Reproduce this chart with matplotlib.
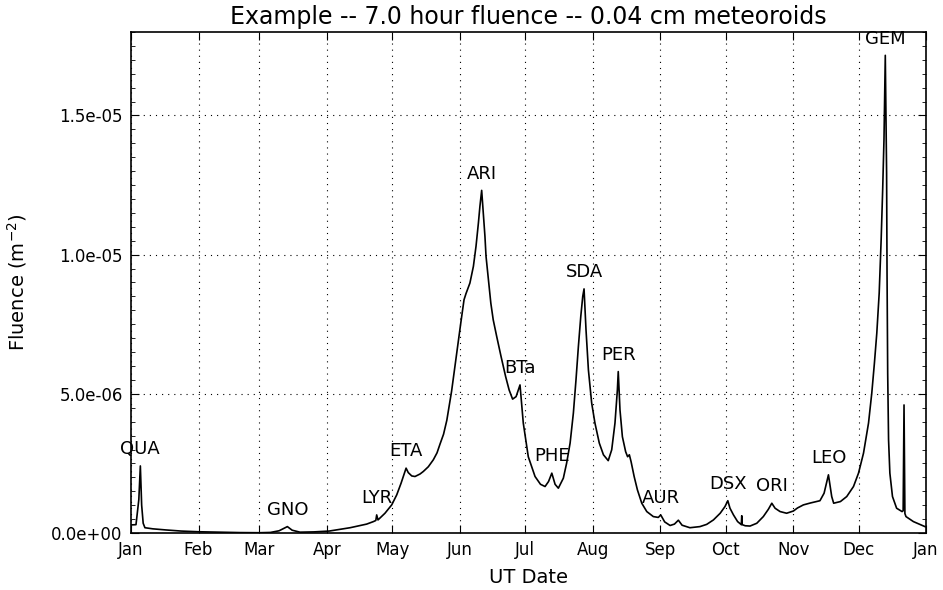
import numpy as np
import pandas as pd
import matplotlib
matplotlib.use("Agg")
import matplotlib.pyplot as plt
import matplotlib.dates as mdates
from matplotlib.ticker import AutoMinorLocator, FormatStrFormatter, MultipleLocator

# day of year (days after Jan 1) and fluence in units of 1e-6 m^-2
days = [0.0, 2.3, 3.6, 4.3, 4.9, 5.6, 6.4, 10, 16, 23, 31, 40, 50, 59,
        64, 68, 71.8, 74, 77.6, 84, 91, 100.6, 108.2, 111.3, 112.4, 112.8, 113.4,
        116.6, 119.7, 122, 124, 125.3, 126.3, 127.3, 128.9, 130.4, 132.7, 134.2,
        136.5, 138.8, 140.5, 141.9, 143.5, 145, 147.2, 149.5, 151.4, 152.9,
        153.8, 155.6, 157.2, 158.4, 159.5, 160.2, 161.0, 162.5, 163.0, 164.1,
        165.2, 166.3, 167.9, 169.9, 172.0, 173.6, 175.2, 176.8, 178.6, 180.1,
        182.4, 185.5, 188, 190.1, 191.7, 193.2, 194.7, 196.2, 198.5, 200,
        201.6, 203.1, 204.3, 205.4, 206.5, 207.4, 208, 208.9, 210, 211.5, 213,
        215, 216.9, 219.1, 220.7, 222.2, 223.3, 223.7, 224.5, 225.6, 227.1,
        228.0, 228.8, 229.6, 231, 232.5, 234.5, 236.8, 239.8, 242.1, 243.2,
        245, 247.5, 249.5, 251.3, 253, 256.6, 261.2, 264.3, 267.4, 270.5,
        272.7, 274, 275.0, 276.6, 278.5, 280.2, 280.4, 280.6, 282, 284.2,
        287.3, 290.3, 292.6, 294.2, 295.7, 298, 301, 304.1, 306, 308.7, 312,
        316.3, 318.2, 320.2, 321.7, 322.6, 325.7, 328.6, 331.7, 334, 336.3,
        338.6, 340.1, 341.3, 342.4, 343.5, 344.4, 345.1, 345.7, 346.3, 346.9,
        347.1, 347.4, 347.8, 348.4, 349.6, 351.5, 354.0, 354.5, 354.9, 355.3,
        355.8, 359.2, 364.5, 365]
fluence_e6 = [0.29, 0.30, 1.2, 2.41, 1.0, 0.35, 0.19, 0.15, 0.11, 0.07, 0.045,
              0.03, 0.015, 0.01, 0.02, 0.08, 0.23, 0.10, 0.03, 0.04, 0.07, 0.19,
              0.32, 0.41, 0.45, 0.65, 0.47, 0.71, 1.01, 1.37, 1.79, 2.09, 2.33,
              2.17, 2.05, 2.03, 2.12, 2.21, 2.38, 2.63, 2.88, 3.20, 3.55, 4.05,
              5.10, 6.45, 7.54, 8.38, 8.60, 8.98, 9.58, 10.3, 11.14, 11.74,
              12.31, 10.66, 9.94, 9.10, 8.26, 7.66, 7.06, 6.34, 5.62, 5.14, 4.81,
              4.90, 5.32, 3.95, 2.74, 2.03, 1.75, 1.67, 1.85, 2.15, 1.75, 1.61,
              1.97, 2.51, 3.23, 4.31, 5.50, 6.70, 7.78, 8.50, 8.77, 7.30, 5.86,
              4.67, 3.95, 3.23, 2.81, 2.60, 2.99, 3.95, 5.14, 5.80, 4.42, 3.46,
              2.92, 2.74, 2.81, 2.56, 2.03, 1.55, 1.07, 0.77, 0.59, 0.56, 0.65,
              0.40, 0.27, 0.32, 0.46, 0.28, 0.19, 0.23, 0.31, 0.47, 0.71, 0.95,
              1.16, 0.89, 0.65, 0.41, 0.30, 0.62, 0.30, 0.26, 0.25, 0.35, 0.59,
              0.85, 1.07, 0.89, 0.77, 0.71, 0.79, 0.90, 1.01, 1.08, 1.16, 1.43,
              2.09, 1.31, 1.07, 1.13, 1.31, 1.67, 2.15, 2.87, 3.95, 5.03, 6.10,
              7.18, 8.62, 10.54, 12.34, 14.14, 17.16, 12.94, 9.34, 5.74, 3.35,
              2.15, 1.31, 0.89, 0.77, 0.8, 4.60, 0.7, 0.59, 0.41, 0.23, 0.22]

# shower labels at their peaks
shower_names = ["QUA", "GNO", "LYR", "ETA", "ARI", "BTa", "PHE", "SDA", "PER",
                "AUR", "DSX", "ORI", "LEO", "GEM"]
shower_days = [4.3, 71.8, 112.8, 126.3, 161.0, 178.6, 193.2, 208.0, 223.7,
               243.2, 274.0, 294.2, 320.2, 346.3]
shower_peaks_e6 = [2.41, 0.23, 0.65, 2.33, 12.31, 5.32, 2.15, 8.77, 5.80,
                   0.65, 1.16, 1.07, 2.09, 17.16]

start = pd.Timestamp("2019-01-01")
t = start + pd.to_timedelta(days, unit="D")
f = np.array(fluence_e6) * 1e-6

fig = plt.figure(figsize=(9.43, 5.9), dpi=100)
ax = fig.add_axes([0.1389, 0.0966, 0.8431, 0.8492])

ax.plot(t, f, color="k", linewidth=1.2)

for name, d, p in zip(shower_names, shower_days, shower_peaks_e6):
    ax.annotate(name, (start + pd.Timedelta(days=d), p * 1e-6),
                xytext=(0, 8.5), textcoords="offset points",
                ha="center", va="baseline", fontsize=13)

ax.set_xlim(start, pd.Timestamp("2020-01-01"))
ax.set_ylim(0, 1.8e-5)
ax.xaxis.set_major_locator(mdates.MonthLocator())
ax.xaxis.set_major_formatter(mdates.DateFormatter("%b"))
ax.yaxis.set_major_locator(MultipleLocator(5e-6))
ax.yaxis.set_major_formatter(FormatStrFormatter("%.1e"))
ax.yaxis.set_minor_locator(AutoMinorLocator(10))

ax.tick_params(which="both", direction="in", top=True, right=True,
               labelsize=12)
ax.tick_params(which="major", length=5.5, width=0.8, pad=6)
ax.tick_params(which="minor", length=2.8, width=0.6)
ax.grid(True, which="major", color="k", linestyle=(0, (1, 4.5)), linewidth=0.8)
for s in ax.spines.values():
    s.set_linewidth(1.2)

ax.set_title("Example -- 7.0 hour fluence -- 0.04 cm meteoroids", fontsize=17)
ax.set_xlabel("UT Date", fontsize=14, labelpad=6)
ax.set_ylabel("Fluence (m$^{-2}$)", fontsize=14, labelpad=16)

fig.savefig("out.png", dpi=100)
